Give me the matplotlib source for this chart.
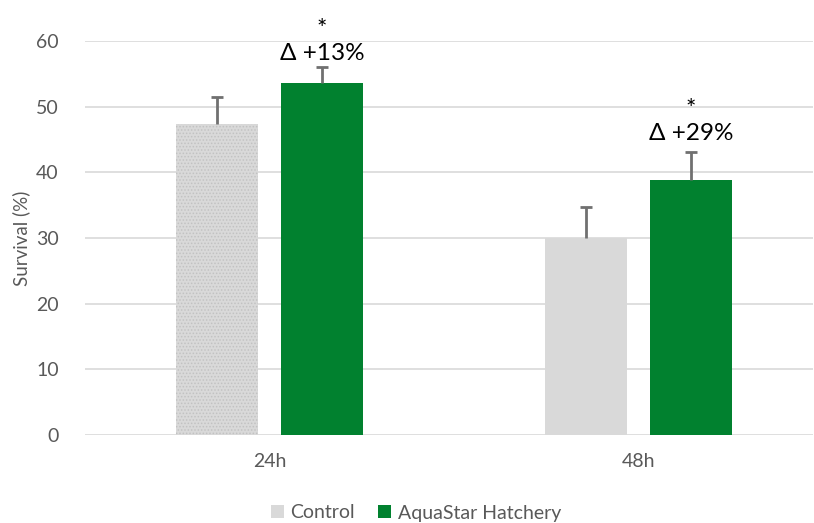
import numpy as np
import matplotlib
matplotlib.use("Agg")
import matplotlib.pyplot as plt
from matplotlib.patches import Patch

# survival data per time point
times = ["24h", "48h"]
control = [47.4, 30.0]
aquastar = [53.6, 38.8]
control_err = [4.1, 4.7]
aquastar_err = [2.4, 4.3]
deltas = ["Δ +13%", "Δ +29%"]

plt.rcParams['font.family'] = ['Lato', 'DejaVu Sans']
plt.rcParams['hatch.linewidth'] = 0.7

grey_txt = "#595959"
c_ctrl = "#d9d9d9"
c_aqua = "#01812f"
c_err = "#707070"

fig = plt.figure(figsize=(8.14, 5.23), dpi=100)
ax = fig.add_axes([85/814, 88/523, (813-85)/814, (435-41)/523])

x = np.arange(len(times))
w = 0.222
off = 0.142

bars_c = ax.bar(x - off, control, w, color=c_ctrl, zorder=2)
# dotted texture on the first control bar
bars_c[0].set_hatch('.....')
bars_c[0].set_edgecolor('#c2c2c2')
bars_c[0].set_linewidth(0)
ax.bar(x + off, aquastar, w, color=c_aqua, zorder=2)

# upper-only error bars
def up_err(xs, ys, es):
    tops = np.array(ys) + np.array(es)
    ax.vlines(xs, ys, tops, color=c_err, linewidth=2, zorder=3)
    ax.hlines(tops, np.array(xs) - 0.016, np.array(xs) + 0.016,
              color=c_err, linewidth=2, zorder=3)

up_err(x - off, control, control_err)
up_err(x + off, aquastar, aquastar_err)

# significance star + change label above the AquaStar bars
label_y = [59.95, 47.8]
for i in range(len(times)):
    ax.text(x[i] + off, label_y[i], "*\n" + deltas[i], ha='center',
            va='center', multialignment='center', fontsize=17.5,
            linespacing=1.24, color='black', clip_on=False)

ax.set_ylim(0, 60)
ax.set_xlim(-0.5, (813-85)/369 - 0.5)
ax.set_yticks(range(0, 61, 10))
ax.set_xticks(x)
ax.set_xticklabels(times)
ax.yaxis.grid(True, color="#d9d9d9", linewidth=1.2, zorder=0)
ax.set_axisbelow(True)
for s in ax.spines.values():
    s.set_visible(False)
ax.tick_params(length=0, labelsize=14, colors=grey_txt)
ax.tick_params(axis='x', pad=13)
ax.tick_params(axis='y', pad=19)
ax.set_ylabel("Survival (%)", fontsize=13.5, color=grey_txt)
ax.yaxis.set_label_coords(-0.075, 0.5)

handles = [Patch(facecolor=c_ctrl), Patch(facecolor=c_aqua)]
fig.legend(handles, ["Control", "AquaStar Hatchery"], loc='center',
           bbox_to_anchor=(416/814, 1 - 513/523), ncol=2, frameon=False,
           fontsize=14, labelcolor=grey_txt, handlelength=0.65,
           handleheight=0.65, handletextpad=0.35, columnspacing=1.2)

fig.savefig("out.png", dpi=100)
